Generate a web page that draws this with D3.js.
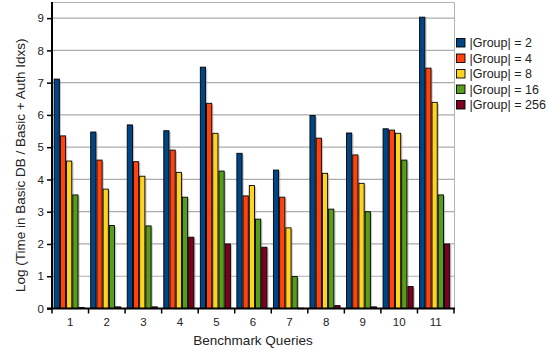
<!DOCTYPE html>
<html>
<head>
<meta charset="utf-8">
<script src="https://cdn.jsdelivr.net/npm/d3@7"></script>
<style>
  html, body { margin: 0; padding: 0; background: #fff; }
  svg { display: block; font-family: "Liberation Sans", Arial, sans-serif; }
</style>
</head>
<body>
<svg id="chart" width="549" height="353"></svg>
<script>
// Benchmark queries on the x axis
const categories = ["1", "2", "3", "4", "5", "6", "7", "8", "9", "10", "11"];

// One series per group size
const seriesNames = ["|Group| = 2", "|Group| = 4", "|Group| = 8", "|Group| = 16", "|Group| = 256"];
const group2   = [7.11, 5.47, 5.69, 5.51, 7.48, 4.81, 4.29, 5.98, 5.44, 5.57, 9.03];
const group4   = [5.35, 4.60, 4.55, 4.91, 6.36, 3.49, 3.45, 5.28, 4.76, 5.53, 7.45];
const group8   = [4.57, 3.70, 4.10, 4.22, 5.43, 3.81, 2.50, 4.19, 3.88, 5.43, 6.39];
const group16  = [3.52, 2.57, 2.56, 3.45, 4.26, 2.77, 0.99, 3.08, 3.00, 4.60, 3.52];
const group256 = [0.03, 0.05, 0.05, 2.21, 2.00, 1.90, 0.01, 0.09, 0.05, 0.68, 2.00];

const yTicks = [0, 1, 2, 3, 4, 5, 6, 7, 8, 9];

const seriesValues = [group2, group4, group8, group16, group256];
const colors = ["#004586", "#ff420e", "#ffd320", "#579d1c", "#7e0021"];

const svg = d3.select("#chart");
const plot = { left: 52, right: 454, top: 2, bottom: 308.5 };

const y = d3.scaleLinear().domain([0, 9.5]).range([plot.bottom, plot.top]);
const x0 = d3.scaleBand().domain(categories).range([plot.left, plot.right])
  .paddingInner(0.15).paddingOuter(0.075).align(0.3);
const x1 = d3.scaleBand().domain(d3.range(seriesNames.length)).range([0, x0.bandwidth()]);

// Horizontal gridlines
svg.append("g")
  .selectAll("line")
  .data(yTicks.filter(t => t > 0))
  .join("line")
  .attr("x1", plot.left).attr("x2", plot.right)
  .attr("y1", d => y(d)).attr("y2", d => y(d))
  .attr("stroke", "#ababab").attr("stroke-width", 1.2);

// Plot frame: top and right edges
svg.append("path")
  .attr("d", `M${plot.left},${plot.top + 0.5}H${plot.right + 0.5}V${plot.bottom}`)
  .attr("fill", "none").attr("stroke", "#b3b3b3").attr("stroke-width", 1);

// Bars, with a soft offset shadow
const groups = svg.append("g")
  .selectAll("g")
  .data(categories)
  .join("g")
  .attr("transform", d => `translate(${x0(d)},0)`);

const barData = (c, ci) => seriesValues.map((vals, si) => ({ si, v: vals[ci] }));

groups.each(function(c, ci) {
  const g = d3.select(this);
  g.selectAll("rect.shadow")
    .data(barData(c, ci))
    .join("rect")
    .attr("class", "shadow")
    .attr("x", d => x1(d.si) + 1.2)
    .attr("y", d => y(d.v) + 1.2)
    .attr("width", x1.bandwidth())
    .attr("height", d => Math.max(0, y(0) - y(d.v) - 1.2))
    .attr("fill", "#9a9a9a").attr("opacity", 0.55);
  g.selectAll("rect.bar")
    .data(barData(c, ci))
    .join("rect")
    .attr("class", "bar")
    .attr("x", d => x1(d.si) + 0.5)
    .attr("y", d => y(d.v))
    .attr("width", x1.bandwidth() - 1)
    .attr("height", d => Math.max(0.6, y(0) - y(d.v)))
    .attr("fill", d => colors[d.si])
    .attr("stroke", "#000").attr("stroke-width", 0.9);
});

// Y axis
const yAxis = svg.append("g")
  .attr("transform", `translate(${plot.left},0)`)
  .call(d3.axisLeft(y).tickValues(yTicks).tickFormat(d3.format("d")).tickSize(5).tickPadding(3));
yAxis.select(".domain").attr("stroke", "#000").attr("stroke-width", 2)
  .attr("d", `M0,${plot.top}V${plot.bottom}`);
yAxis.selectAll(".tick line").attr("stroke", "#000").attr("stroke-width", 1.5);
yAxis.selectAll("text").attr("font-size", 11.5).attr("fill", "#222")
  .attr("font-family", "Liberation Sans, Arial, sans-serif");

// X axis: tick marks at category boundaries, labels centred under groups
const xAxisG = svg.append("g").attr("transform", `translate(0,${plot.bottom})`);
xAxisG.append("line")
  .attr("x1", plot.left - 5).attr("x2", plot.right + 1)
  .attr("stroke", "#000").attr("stroke-width", 2);
const step = (plot.right - plot.left) / categories.length;
xAxisG.selectAll("line.tick")
  .data(d3.range(categories.length + 1))
  .join("line")
  .attr("class", "tick")
  .attr("x1", i => plot.left + i * step).attr("x2", i => plot.left + i * step)
  .attr("y1", 0).attr("y2", 5)
  .attr("stroke", "#000").attr("stroke-width", 1.5);
xAxisG.selectAll("text")
  .data(categories)
  .join("text")
  .attr("x", (d, i) => plot.left + (i + 0.5) * step)
  .attr("y", 17)
  .attr("text-anchor", "middle")
  .attr("font-size", 11.5).attr("fill", "#222")
  .text(d => d);

// Axis titles
svg.append("text")
  .attr("x", (plot.left + plot.right) / 2)
  .attr("y", 345)
  .attr("text-anchor", "middle")
  .attr("font-size", 13.5).attr("fill", "#222")
  .text("Benchmark Queries");

svg.append("text")
  .attr("transform", `translate(25,${(plot.top + plot.bottom) / 2 + 10}) rotate(-90)`)
  .attr("text-anchor", "middle")
  .attr("font-size", 13.5).attr("fill", "#222")
  .text("Log (Time in Basic DB / Basic + Auth Idxs)");

// Legend
const legend = svg.append("g").attr("transform", "translate(456,38)");
const items = legend.selectAll("g")
  .data(seriesNames)
  .join("g")
  .attr("transform", (d, i) => `translate(0,${i * 15.5})`);
items.append("rect")
  .attr("x", 0.5).attr("y", 0.5).attr("width", 8.5).attr("height", 8.5)
  .attr("fill", (d, i) => colors[i]).attr("stroke", "#000").attr("stroke-width", 0.9);
items.append("text")
  .attr("x", 13.5).attr("y", 9)
  .attr("font-size", 12.5).attr("fill", "#222")
  .text(d => d);
</script>
</body>
</html>
